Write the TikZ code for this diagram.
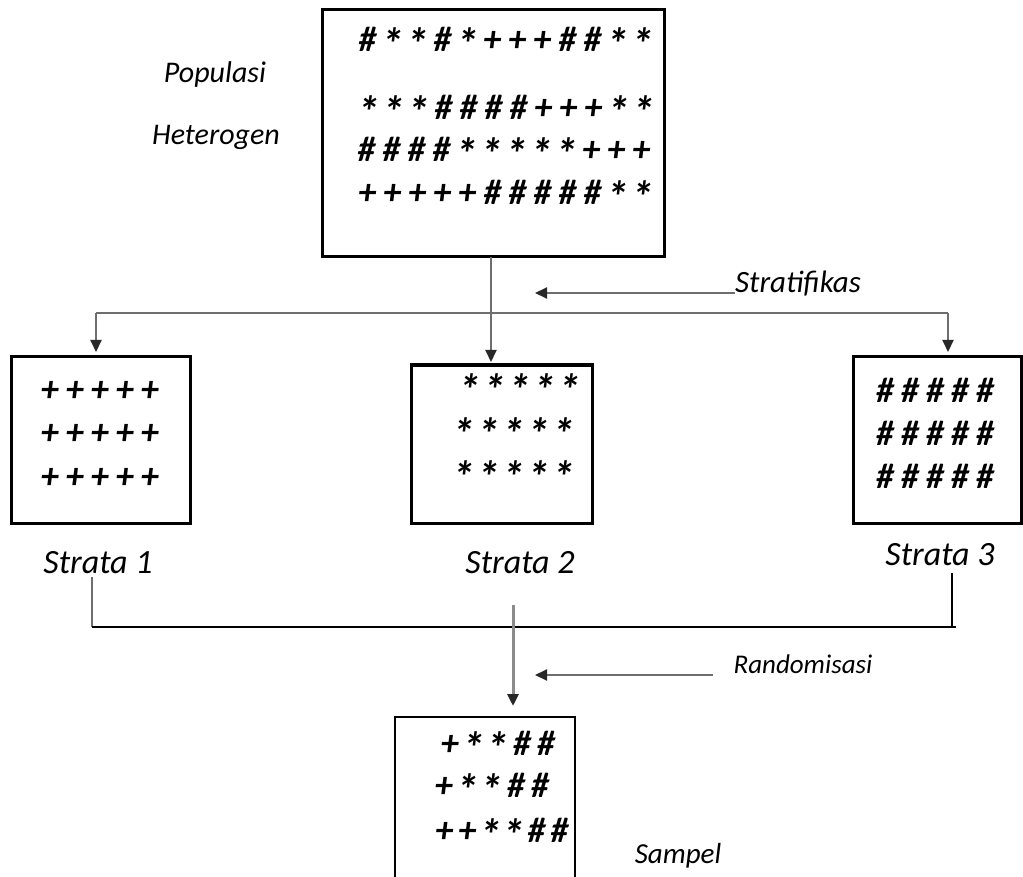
\documentclass[tikz,border=0pt]{standalone}
\usepackage{fontspec}
\usepackage{graphicx}
\setmainfont{Carlito}
\usetikzlibrary{arrows.meta}
\definecolor{linegray}{RGB}{110,110,110}
\definecolor{tipgray}{RGB}{40,40,40}
\newlength\sympitch
\makeatletter
\def\mysym@H{\scalebox{1.08}{\#}}
\def\mysym@A{\raisebox{-8pt}{\scalebox{1.35}{*}}}
\def\mysym@P{\scalebox{1.1}{+}}
\newcommand\mysyms[2]{\setlength\sympitch{#1}\@tfor\mytok:=#2\do{\makebox[\sympitch]{\csname mysym@\mytok\endcsname}}}
\makeatother
\tikzset{
  bigbox/.style={draw=black,line width=3pt},
  symrow/.style={anchor=base,inner sep=0pt,font=\fontsize{33}{40}\selectfont\bfseries\itshape},
  lbl/.style={anchor=base,inner sep=0pt,font=\fontsize{#1}{#1}\selectfont\itshape},
  conn/.style={draw=linegray,line width=2pt},
  arr/.style={conn,-{Triangle[width=11pt,length=12pt,color=tipgray]}},
}
\begin{document}
\begin{tikzpicture}[x=1pt,y=-1pt]
\useasboundingbox (0,0) rectangle (1023,877);
% boxes
\draw[bigbox] (322,10) rectangle (664,257);
\coordinate (popB) at (491,257);
\draw[bigbox] (11,357) rectangle (190,523);
\coordinate (s1T) at (96,352);
\draw[bigbox] (411,365) rectangle (592,523);
\coordinate (s2T) at (491,362);
\draw[bigbox] (853,357) rectangle (1021,523);
\coordinate (s3T) at (948,352);
\draw[line width=1.5pt] (395,877) -- (395,717) -- (575,717) -- (575,877);
\coordinate (smT) at (513,706);
% population rows
\node[symrow] (p1) at (505,52) {\mysyms{25pt}{HAAHAPPPHHAA}};
\node[symrow] (p2) at (506,120) {\mysyms{25pt}{AAAHHHHPPPAA}};
\node[symrow] (p3) at (504,162) {\mysyms{25pt}{HHHHAAAAAPPP}};
\node[symrow] (p4) at (505,205) {\mysyms{25pt}{PPPPPHHHHHAA}};
% strata 1
\node[symrow] (a1) at (100,401) {\mysyms{25pt}{PPPPP}};
\node[symrow] (a2) at (100,444) {\mysyms{25pt}{PPPPP}};
\node[symrow] (a3) at (100,488) {\mysyms{25pt}{PPPPP}};
% strata 2
\node[symrow] (b1) at (520,398) {\mysyms{25pt}{AAAAA}};
\node[symrow] (b2) at (514,442) {\mysyms{25pt}{AAAAA}};
\node[symrow] (b3) at (514,484) {\mysyms{25pt}{AAAAA}};
% strata 3
\node[symrow] (c1) at (935,402) {\mysyms{25pt}{HHHHH}};
\node[symrow] (c2) at (935,445) {\mysyms{25pt}{HHHHH}};
\node[symrow] (c3) at (935,488) {\mysyms{25pt}{HHHHH}};
% sample
\node[symrow] (d1) at (498,755) {\mysyms{24pt}{PAAHH}};
\node[symrow] (d2) at (492,797) {\mysyms{24pt}{PAAHH}};
\node[symrow] (d3) at (502,842) {\mysyms{23pt}{PPAAHH}};
% labels
\node[lbl=30] (pop) at (215,83) {Populasi};
\node[lbl=30] (het) at (216,145) {Heterogen};
\node[lbl=31] (strat) at (798,293) {Stratifikas};
\node[lbl=34] (l1) at (98,573) {Strata 1};
\node[lbl=34] (l2) at (520,573) {Strata 2};
\node[lbl=34] (l3) at (940,565) {Strata 3};
\node[lbl=27] (rand) at (803,673) {Randomisasi};
\node[lbl=29] (samp) at (678,863) {Sampel};
% stratification connectors
\coordinate (hL) at (96,313);
\coordinate (hR) at (948,313);
\draw[conn] (hL) -- (hR);
\draw[arr] (popB) -- (s2T);
\draw[arr] (hL) -- (s1T);
\draw[arr] (hR) -- (s3T);
\coordinate (stTip) at (535,293);
\draw[arr] (strat.west |- stTip) -- (stTip);
% randomisation connectors
\coordinate (bL) at (92,627);
\coordinate (bR) at (952,627);
\coordinate (bE) at (956,627);
\coordinate (l1B) at (92,577);
\coordinate (l3B) at (952,573);
\coordinate (cTop) at (513,605);
\draw[conn] (l1B) -- (bL);
\draw[line width=2.5pt] (bL) -- (bE);
\draw[line width=2.5pt] (l3B) -- (bR);
\draw[arr,line width=3pt,draw=linegray!80] (cTop) -- (smT);
\coordinate (rTip) at (535,675);
\coordinate (rStart) at (713,675);
\draw[arr] (rStart) -- (rTip);
\end{tikzpicture}
\end{document}
